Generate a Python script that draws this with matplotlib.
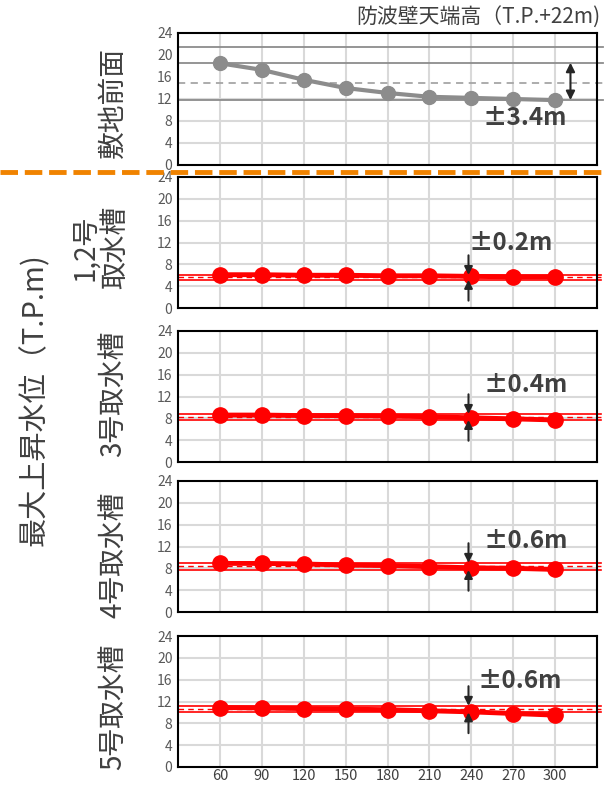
import matplotlib
matplotlib.use("Agg")
import matplotlib.pyplot as plt
from matplotlib.lines import Line2D
import matplotlib.transforms as mtransforms

plt.rcParams['font.family'] = ['Noto Sans CJK JP', 'DejaVu Sans']

# distance (x axis categories)
distance = [60, 90, 120, 150, 180, 210, 240, 270, 300]

# maximum water level, T.P. m
front = [18.5, 17.3, 15.5, 14.0, 13.1, 12.4, 12.2, 12.0, 11.8]
pit12 = [6.1, 6.1, 6.0, 6.0, 5.9, 5.9, 5.8, 5.7, 5.7]
pit3 = [8.6, 8.6, 8.5, 8.5, 8.4, 8.3, 8.1, 7.9, 7.7]
pit4 = [8.9, 8.9, 8.8, 8.6, 8.5, 8.3, 8.1, 8.0, 7.8]
pit5 = [10.9, 10.8, 10.7, 10.6, 10.5, 10.3, 10.1, 9.8, 9.5]

# spread bands: upper, centre, lower
band_upper = [18.6, 6.05, 8.8, 9.0, 11.2]
band_center = [15.0, 5.6, 8.25, 8.35, 10.6]
band_lower = [11.8, 5.15, 7.7, 7.7, 10.0]
spread_labels = ['±3.4m', '±0.2m', '±0.4m', '±0.6m', '±0.6m']

wall_height = 21.5
panel_names = ['敷地前面', '1,2号\n取水槽', '3号取水槽', '4号取水槽', '5号取水槽']
series = [front, pit12, pit3, pit4, pit5]

y_ticks = [0, 4, 8, 12, 16, 20, 24]

W, H = 608, 787
fig = plt.figure(figsize=(W / 100, H / 100), dpi=100)

# pixel boxes (top, bottom) for each panel
boxes = [(33, 165), (177, 308), (331, 462), (481, 612), (636, 767)]
ax_left, ax_right = 178, 597

# label layout: (x of text in axes frac, y in axes frac)
name_pos = [(-0.155, 0.477), (-0.185, 0.46), (-0.155, 0.52), (-0.155, 0.44), (-0.155, 0.46)]
text_pos = [(278, 8.5), (268, 11.9), (279, 14.1), (279, 13.0), (275, 15.7)]

grid_c = '#D9D9D9'
txt_c = '#404040'

for i, (top, bot) in enumerate(boxes):
    ax = fig.add_axes([ax_left / W, (H - bot) / H, (ax_right - ax_left) / W, (bot - top) / H])
    ax.set_xlim(30, 330)
    ax.set_ylim(0, 24)
    ax.set_xticks(distance)
    ax.set_yticks(y_ticks)
    ax.tick_params(length=0, labelsize=10, labelcolor='#595959', pad=4)
    if i < 4:
        ax.set_xticklabels([])
    else:
        ax.tick_params(axis='x', labelsize=10.5, labelcolor=txt_c, pad=1.5)
    for s in ax.spines.values():
        s.set_linewidth(1.5)
        s.set_color('black')
        s.set_zorder(6)

    for xv in distance:
        ax.axvline(xv, color=grid_c, lw=1.5, zorder=0)
    hgrid = [4, 8, 12] if i == 0 else [4, 8, 12, 16, 20]
    for yv in hgrid:
        ax.axhline(yv, color=grid_c, lw=1.5, zorder=0)

    blend = mtransforms.blended_transform_factory(ax.transAxes, ax.transData)
    if i == 0:
        line_c = '#8C8C8C'
        ax.plot([0, 1.015], [wall_height] * 2, transform=blend, color='#8C8C8C', lw=1.3, clip_on=False, zorder=2)
        for yv in (band_upper[i], band_lower[i]):
            ax.plot([0, 1.015], [yv] * 2, transform=blend, color='#8C8C8C', lw=1.3, clip_on=False, zorder=2)
        ax.plot([0, 1.015], [band_center[i]] * 2, transform=blend, color='#A6A6A6', lw=1.3,
                ls=(0, (4, 3)), clip_on=False, zorder=2)
        ax.plot(distance, series[i], color=line_c, lw=3, marker='o', ms=10, zorder=4)
        ax.annotate('', xy=(311, band_upper[i]), xytext=(311, band_lower[i]),
                    arrowprops=dict(arrowstyle='<|-|>', color='#262626', lw=1.5,
                                    mutation_scale=13, shrinkA=0, shrinkB=0), zorder=5)
    else:
        for yv in (band_upper[i], band_lower[i]):
            ax.plot([0, 1.01], [yv] * 2, transform=blend, color='#FF0000', lw=1.2, clip_on=False, zorder=2)
        ax.plot([0, 1.01], [band_center[i]] * 2, transform=blend, color='#FF0000', lw=1.0,
                ls=(0, (4, 3)), clip_on=False, zorder=2)
        ax.plot(distance, series[i], color='#FF0000', lw=3.5, marker='o', ms=11, zorder=4)
        ax.annotate('', xy=(238, band_upper[i]), xytext=(238, band_upper[i] + 3.6),
                    arrowprops=dict(arrowstyle='-|>', color='#262626', lw=1.5,
                                    mutation_scale=12, shrinkA=0, shrinkB=0), zorder=5)
        ax.annotate('', xy=(238, band_lower[i]), xytext=(238, band_lower[i] - 3.8),
                    arrowprops=dict(arrowstyle='-|>', color='#262626', lw=1.5,
                                    mutation_scale=12, shrinkA=0, shrinkB=0), zorder=5)

    tx, ty = text_pos[i]
    ax.text(tx, ty, spread_labels[i], fontsize=17.5, fontweight='bold', color=txt_c,
            ha='center', va='center', zorder=7)
    nx, ny = name_pos[i]
    ax.text(nx, ny, panel_names[i], transform=ax.transAxes, rotation=90, fontsize=20,
            color=txt_c, ha='center', va='center', linespacing=1.0)

fig.text(600 / W, (H - 18) / H, '防波壁天端高（T.P.+22m)', fontsize=15, color=txt_c,
         ha='right', va='center')
fig.text(35 / W, (H - 400) / H, '最大上昇水位（T.P.m)', fontsize=21, color=txt_c,
         rotation=90, ha='center', va='center')

# orange separator between the front panel and the intake pits
fig.add_artist(Line2D([0, 1], [(H - 172) / H] * 2, transform=fig.transFigure,
                      color='#F08300', lw=3.5, ls=(0, (3.6, 1.4)), zorder=10))

fig.savefig('out.png', dpi=100)
